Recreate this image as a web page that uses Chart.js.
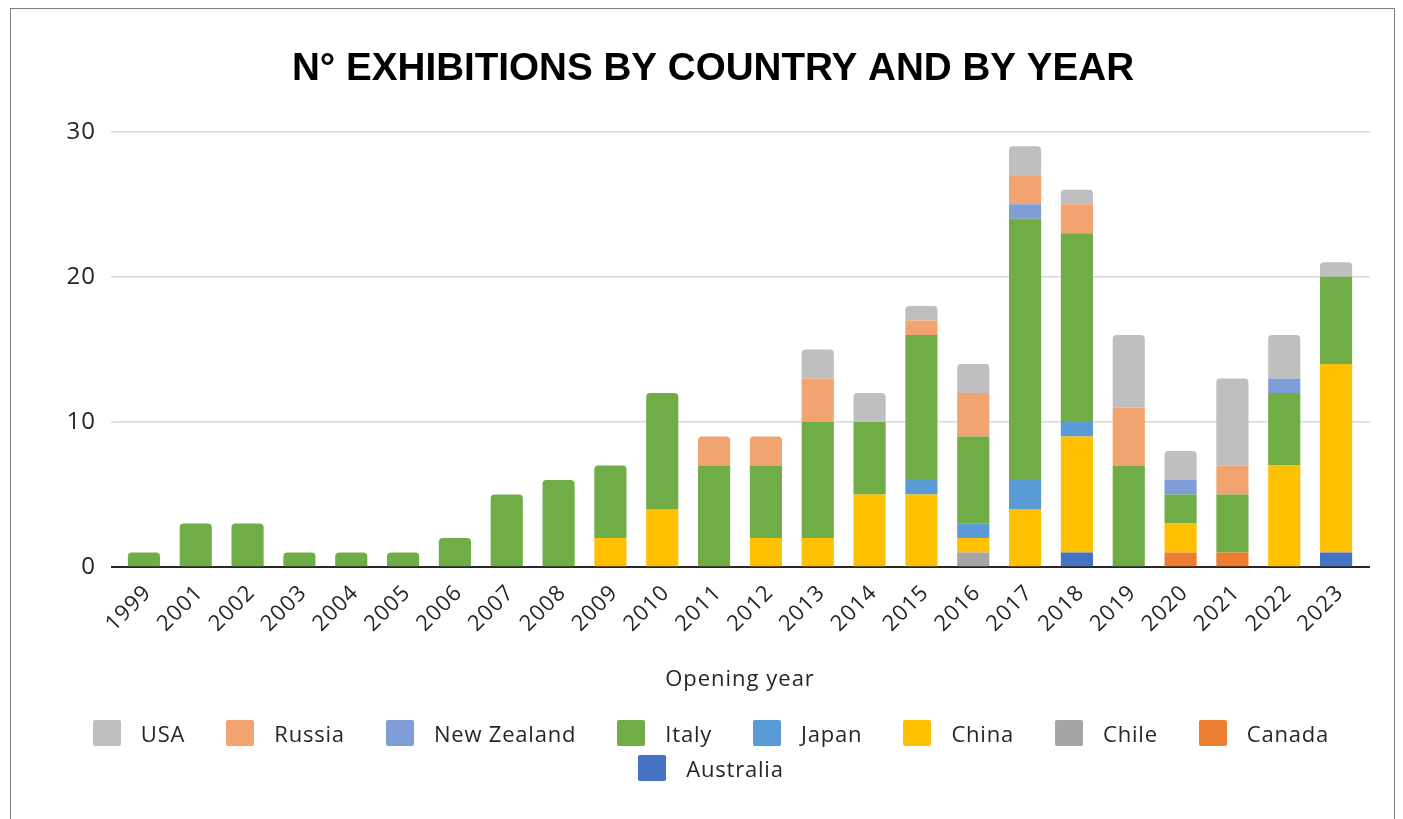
<!DOCTYPE html>
<html>
<head>
<meta charset="utf-8">
<script src="https://cdn.jsdelivr.net/npm/chart.js@4"></script>
<style>
  html, body { margin: 0; padding: 0; background: #fff; overflow: hidden; }
  #wrap { position: relative; width: 1403px; height: 819px; }
  #frame { position: absolute; left: 10px; top: 8px; width: 1385px; height: 840px; border: 1px solid #7f7f7f; box-sizing: border-box; pointer-events: none; }
  canvas { position: absolute; left: 0; top: 0; }
  #legend { position: absolute; left: 61px; top: 720px; width: 1300px; display: flex; flex-wrap: wrap; justify-content: center; row-gap: 9px; column-gap: 41px;
            font-family: "Open Sans", sans-serif; font-size: 22px; letter-spacing: 0.8px; color: #262626; }
  #legend .item { display: flex; align-items: center; height: 26px; }
  #legend .box { width: 28px; height: 26px; border-radius: 2px; margin-right: 20px; }
</style>
</head>
<body>
<div id="wrap">
  <canvas id="c" width="1403" height="819"></canvas>
  <div id="frame"></div>
  <div id="legend"></div>
</div>
<script>
const years = ['1999','2001','2002','2003','2004','2005','2006','2007','2008','2009','2010','2011','2012','2013','2014','2015','2016','2017','2018','2019','2020','2021','2022','2023'];
const australia = [0,0,0,0,0,0,0,0,0,0,0,0,0,0,0,0,0,0,1,0,0,0,0,1];
const canada    = [0,0,0,0,0,0,0,0,0,0,0,0,0,0,0,0,0,0,0,0,1,1,0,0];
const chile     = [0,0,0,0,0,0,0,0,0,0,0,0,0,0,0,0,1,0,0,0,0,0,0,0];
const china     = [0,0,0,0,0,0,0,0,0,2,4,0,2,2,5,5,1,4,8,0,2,0,7,13];
const japan     = [0,0,0,0,0,0,0,0,0,0,0,0,0,0,0,1,1,2,1,0,0,0,0,0];
const italy     = [1,3,3,1,1,1,2,5,6,5,8,7,5,8,5,10,6,18,13,7,2,4,5,6];
const newZealand= [0,0,0,0,0,0,0,0,0,0,0,0,0,0,0,0,0,1,0,0,1,0,1,0];
const russia    = [0,0,0,0,0,0,0,0,0,0,0,2,2,3,0,1,3,2,2,4,0,2,0,0];
const usa       = [0,0,0,0,0,0,0,0,0,0,0,0,0,2,2,1,2,2,1,5,2,6,3,1];
const yTicks = [0, 10, 20, 30];

const series = [
  ['Australia', australia, '#4472C4'],
  ['Canada', canada, '#ED7D31'],
  ['Chile', chile, '#A5A5A5'],
  ['China', china, '#FFC000'],
  ['Japan', japan, '#5B9BD5'],
  ['Italy', italy, '#70AD47'],
  ['New Zealand', newZealand, '#7F9DD7'],
  ['Russia', russia, '#F1A46F'],
  ['USA', usa, '#BFBFBF']
];

const datasets = series.map(([label, data, color]) => ({
  label, data, backgroundColor: color, borderWidth: 0,
  barPercentage: 0.62, categoryPercentage: 1.0,
  borderSkipped: 'start',
  borderRadius: (ctx) => {
    const i = ctx.dataIndex, d = ctx.datasetIndex;
    const ds = ctx.chart.data.datasets;
    for (let k = ds.length - 1; k > d; k--) if (ds[k].data[i]) return 0;
    return { topLeft: 4, topRight: 4, bottomLeft: 0, bottomRight: 0 };
  }
}));

const TITLE_CENTER_X = 713;
const TITLE_SCALE_X = 0.99;

const styling = {
  id: 'styling',
  beforeLayout(chart) { chart.ctx.letterSpacing = '1px'; },
  beforeDraw(chart) {
    chart.ctx.letterSpacing = '1px';
    const tb = chart.titleBlock;
    if (tb && !tb._wrapped) {
      const orig = tb.draw;
      tb.draw = function () {
        const ctx = this.ctx;
        const cx = (this.left + this.right) / 2;
        ctx.save();
        ctx.letterSpacing = '0px';
        ctx.translate(TITLE_CENTER_X, 0);
        ctx.scale(TITLE_SCALE_X, 1);
        ctx.translate(-cx, 0);
        orig.apply(this, arguments);
        ctx.restore();
      };
      tb._wrapped = true;
    }
  },
  beforeDatasetsDraw(chart) {
    const { ctx, chartArea: { left, right }, scales: { y } } = chart;
    ctx.save();
    yTicks.forEach(v => {
      const py = y.getPixelForValue(v);
      ctx.strokeStyle = v === 0 ? '#262626' : '#D9D9D9';
      ctx.lineWidth = v === 0 ? 2 : 1.5;
      ctx.beginPath();
      ctx.moveTo(left - 7, py); ctx.lineTo(left, py);
      ctx.moveTo(right, py); ctx.lineTo(right + 8, py);
      ctx.stroke();
    });
    ctx.restore();
  }
};

new Chart(document.getElementById('c'), {
  type: 'bar',
  data: { labels: years, datasets },
  plugins: [styling],
  options: {
    responsive: false,
    animation: false,
    layout: { padding: { left: 0, right: 41, top: 0, bottom: 122 } },
    plugins: {
      legend: { display: false },
      tooltip: { enabled: false },
      title: {
        display: true,
        text: 'N° EXHIBITIONS BY COUNTRY AND BY YEAR',
        color: '#000',
        font: { family: '"Liberation Sans", Arial, sans-serif', size: 39, weight: 'bold', lineHeight: 1.2 },
        padding: { top: 46, bottom: 39 }
      }
    },
    scales: {
      x: {
        stacked: true,
        grid: { display: false, drawTicks: false },
        border: { display: true, color: '#262626', width: 2 },
        ticks: { color: '#262626', font: { family: '"Open Sans", sans-serif', size: 22 }, maxRotation: 45, minRotation: 45, padding: 13, labelOffset: 4, autoSkip: false },
        title: { display: true, text: 'Opening year', color: '#262626', font: { family: '"Open Sans", sans-serif', size: 22, lineHeight: 1.2 }, padding: { top: 0, bottom: 4 } },
        afterFit: (s) => { s.height = 130; }
      },
      y: {
        stacked: true,
        min: 0, max: 30,
        afterBuildTicks: (s) => { s.ticks = yTicks.map(v => ({ value: v })); },
        grid: { color: '#D9D9D9', lineWidth: 1.5, drawTicks: false },
        border: { display: false },
        ticks: { color: '#262626', font: { family: '"Open Sans", sans-serif', size: 24 }, padding: 22 },
        afterFit: (s) => { s.width = 118; }
      }
    }
  }
});

const legend = document.getElementById('legend');
series.slice().reverse().forEach(([label, , color]) => {
  const item = document.createElement('div');
  item.className = 'item';
  const box = document.createElement('span');
  box.className = 'box';
  box.style.background = color;
  const txt = document.createElement('span');
  txt.textContent = label;
  item.appendChild(box); item.appendChild(txt);
  legend.appendChild(item);
});
</script>
</body>
</html>
